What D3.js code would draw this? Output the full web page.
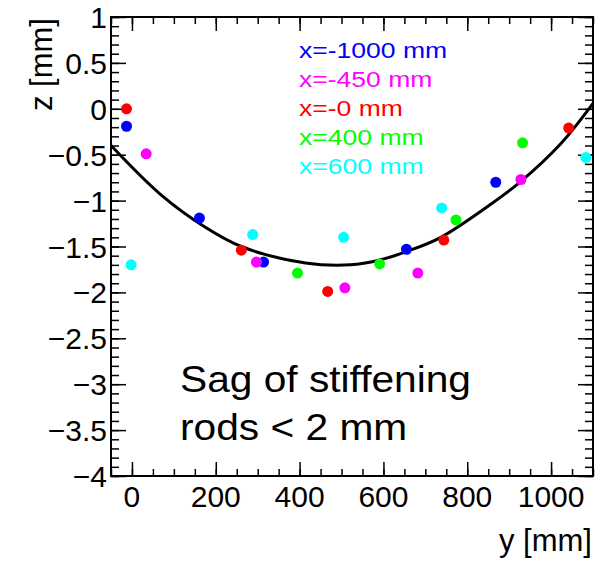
<!DOCTYPE html>
<meta charset="utf-8">
<style>
body { margin: 0; background: #fff; }
svg { font-family: "Liberation Sans", Arial, Helvetica, sans-serif; }
.frame { fill: none; stroke: #000; stroke-width: 2; }
.tick line { stroke: #000; stroke-width: 1.5; }
</style>
<body>
<script src="https://cdn.jsdelivr.net/npm/d3@7"></script>
<script>

// series: position along the rod (y, mm) and sag (z, mm)
var labels = ["x=-1000 mm", "x=-450 mm", "x=-0 mm", "x=400 mm", "x=600 mm"];
var colors = ["#0000ff", "#ff00ff", "#ff0000", "#00ff00", "#00ffff"];

var yBlue = [-13, 161, 314, 655, 868];
var zBlue = [-0.19, -1.19, -1.67, -1.53, -0.80];
var yMagenta = [34, 297, 508, 682, 928];
var zMagenta = [-0.49, -1.67, -1.95, -1.79, -0.77];
var yRed = [-13, 261, 467, 744, 1042];
var zRed = [0.0, -1.54, -1.99, -1.43, -0.21];
var yGreen = [395, 591, 773, 932];
var zGreen = [-1.79, -1.69, -1.21, -0.37];
var yCyan = [-2, 288, 505, 739, 1083];
var zCyan = [-1.70, -1.37, -1.40, -1.08, -0.53];

// fitted curve
var fitY = [-50, 70, 175, 261, 414, 522, 589, 658, 737, 856, 928, 1023, 1100];
var fitZ = [-0.40, -0.94, -1.29, -1.50, -1.68, -1.70, -1.65, -1.55, -1.40, -1.04, -0.79, -0.38, 0.06];

var xTicks = [0, 200, 400, 600, 800, 1000];
var zTicks = [1, 0.5, 0, -0.5, -1, -1.5, -2, -2.5, -3, -3.5, -4];

var width = 608, height = 561;
var pLeft = 111, pRight = 593, pTop = 17, pBottom = 476;

var svg = d3.select("body").append("svg")
    .attr("width", width)
    .attr("height", height);

var x = d3.scaleLinear().domain([-50, 1100]).range([pLeft, pRight]);
var z = d3.scaleLinear().domain([-4, 1]).range([pBottom, pTop]);

var fmt = function (d) { return d3.format("")(d).replace("-", "\u2212"); };

// minor ticks first, then major ticks on all four sides
var xMinor = d3.range(-50, 1101, 50);
var zMinor = d3.range(-40, 11, 1).map(function (d) { return d / 10; });

function tickRow(axis, ticks, len, tr) {
  svg.append("g").attr("transform", tr)
    .call(axis.tickValues(ticks).tickSize(len).tickFormat(""))
    .call(function (g) { g.select(".domain").remove(); });
}
tickRow(d3.axisTop(x), xMinor, 7, "translate(0," + pBottom + ")");
tickRow(d3.axisBottom(x), xMinor, 7, "translate(0," + pTop + ")");
tickRow(d3.axisRight(z), zMinor, 8, "translate(" + pLeft + ",0)");
tickRow(d3.axisLeft(z), zMinor, 8, "translate(" + pRight + ",0)");
tickRow(d3.axisTop(x), xTicks, 14, "translate(0," + pBottom + ")");
tickRow(d3.axisBottom(x), xTicks, 14, "translate(0," + pTop + ")");
tickRow(d3.axisRight(z), zTicks, 15, "translate(" + pLeft + ",0)");
tickRow(d3.axisLeft(z), zTicks, 15, "translate(" + pRight + ",0)");

// tick labels
svg.append("g").selectAll("text").data(xTicks).enter().append("text")
    .attr("x", function (d) { return x(d); })
    .attr("y", 507)
    .attr("text-anchor", "middle")
    .attr("font-size", 30)
    .text(fmt);

svg.append("g").selectAll("text").data(zTicks).enter().append("text")
    .attr("x", 107)
    .attr("y", function (d) { return z(d) + 11; })
    .attr("text-anchor", "end")
    .attr("font-size", 30)
    .text(fmt);

svg.append("rect").attr("class", "frame")
    .attr("x", pLeft).attr("y", pTop)
    .attr("width", pRight - pLeft).attr("height", pBottom - pTop);

// axis titles
svg.append("text")
    .attr("x", 592).attr("y", 551)
    .attr("text-anchor", "end")
    .attr("font-size", 31)
    .text("y [mm]");

svg.append("text")
    .attr("transform", "translate(52,18) rotate(-90)")
    .attr("text-anchor", "end")
    .attr("font-size", 31)
    .text("z [mm]");

// fit curve
var fit = fitY.map(function (d, i) { return [d, fitZ[i]]; });
svg.append("path")
    .datum(fit)
    .attr("fill", "none")
    .attr("stroke", "#000")
    .attr("stroke-width", 3)
    .attr("d", d3.line()
      .x(function (d) { return x(d[0]); })
      .y(function (d) { return z(d[1]); })
      .curve(d3.curveCatmullRom));

// points
var series = [[yBlue, zBlue], [yMagenta, zMagenta], [yRed, zRed], [yGreen, zGreen], [yCyan, zCyan]];
series.forEach(function (s, k) {
  var pts = s[0].map(function (d, i) { return [d, s[1][i]]; });
  svg.append("g").selectAll("circle").data(pts).enter().append("circle")
      .attr("cx", function (d) { return x(d[0]); })
      .attr("cy", function (d) { return z(d[1]); })
      .attr("r", 5.5)
      .attr("fill", colors[k]);
});

// legend
var legend = svg.append("g").attr("transform", "translate(299,58) scale(1.18,1)");
legend.selectAll("text").data(labels).enter().append("text")
    .attr("x", 0)
    .attr("y", function (d, i) { return i * 29; })
    .attr("font-size", 22.5)
    .attr("fill", function (d, i) { return colors[i]; })
    .text(function (d) { return d; });

// annotation
var note = svg.append("g").attr("transform", "translate(180,0) scale(1.1,1)");
note.append("text").attr("y", 392).attr("font-size", 37).text("Sag of stiffening");
note.append("text").attr("y", 440).attr("font-size", 37).text("rods < 2 mm");

</script>
